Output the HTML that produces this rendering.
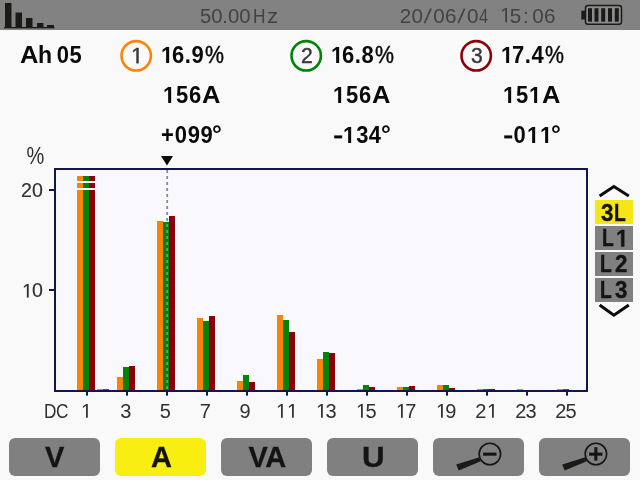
<!DOCTYPE html>
<html><head><meta charset="utf-8"><title>Harmonics</title>
<style>
html,body{margin:0;padding:0;}
body{width:640px;height:480px;overflow:hidden;background:#f9f9f9;position:relative;font-family:"Liberation Sans",sans-serif;}
#hdr{position:absolute;left:0;top:0;width:640px;height:30px;background:#828282;}
.t{position:absolute;white-space:pre;display:block;}
#txt{position:absolute;left:0;top:0;width:640px;height:480px;will-change:transform;}
.g1{display:inline-block;width:0.5562em;height:0.688em;vertical-align:baseline;fill:currentColor;stroke:currentColor;stroke-width:var(--sw,0);overflow:visible;}
.btn{position:absolute;top:438px;width:91px;height:38px;border-radius:6px;}
.sel{position:absolute;left:595px;width:38px;height:24px;}
svg.ov{position:absolute;left:0;top:0;}
</style></head><body>
<div id="hdr"></div>
<svg class="ov" width="640" height="480" viewBox="0 0 640 480">
<!-- header icon -->
<g fill="#1c1a17">
<rect x="5" y="3" width="6.5" height="25"/>
<rect x="15.5" y="12.5" width="6.5" height="15.5"/>
<rect x="26" y="18" width="6.5" height="10"/>
<rect x="37" y="23" width="6.5" height="5"/>
<rect x="47" y="25" width="7" height="3"/>
<rect x="4" y="27" width="50.5" height="1.3"/>
</g>
<!-- date slashes -->
<line x1="424.6" y1="23.1" x2="431.0" y2="8.5" stroke="#424242" stroke-width="1.7"/>
<line x1="458.2" y1="23.1" x2="464.6" y2="8.5" stroke="#424242" stroke-width="1.7"/>
<!-- battery -->
<rect x="581.3" y="10.7" width="4" height="8.8" fill="#1c1a17"/>
<rect x="585.5" y="5.6" width="36" height="18.6" rx="2.5" ry="2.5" fill="#8c8c8c" stroke="#1c1a17" stroke-width="1.5"/>
<g fill="#1c1a17">
<rect x="588" y="8.2" width="4" height="13.5"/>
<rect x="594.5" y="8.2" width="4" height="13.5"/>
<rect x="601.2" y="8.2" width="4" height="13.5"/>
<rect x="608" y="8.2" width="4" height="13.5"/>
<rect x="614.8" y="8.2" width="4" height="13.5"/>
</g>
<!-- circles -->
<circle cx="136.2" cy="55.85" r="14.7" fill="none" stroke="#fa8405" stroke-width="2.6"/>
<circle cx="306.2" cy="55.85" r="14.7" fill="none" stroke="#008408" stroke-width="2.6"/>
<circle cx="476.2" cy="55.85" r="14.7" fill="none" stroke="#8c000c" stroke-width="2.6"/>
<!-- minus signs -->
<rect x="334.2" y="135.4" width="8" height="3" fill="#0a0a0a"/>
<rect x="504.2" y="135.4" width="8" height="3" fill="#0a0a0a"/>
<!-- chart frame -->
<rect x="54" y="168" width="534" height="224" fill="#15154d"/>
<rect x="56" y="170" width="530" height="220" fill="#f8f8fd"/>
<rect x="49" y="189" width="5" height="2" fill="#15154d"/>
<rect x="49" y="289" width="5" height="2" fill="#15154d"/>
<rect x="86" y="392" width="2" height="3.6" fill="#15154d"/><rect x="126" y="392" width="2" height="3.6" fill="#15154d"/><rect x="166" y="392" width="2" height="3.6" fill="#15154d"/><rect x="206" y="392" width="2" height="3.6" fill="#15154d"/><rect x="246" y="392" width="2" height="3.6" fill="#15154d"/><rect x="286" y="392" width="2" height="3.6" fill="#15154d"/><rect x="326" y="392" width="2" height="3.6" fill="#15154d"/><rect x="366" y="392" width="2" height="3.6" fill="#15154d"/><rect x="406" y="392" width="2" height="3.6" fill="#15154d"/><rect x="446" y="392" width="2" height="3.6" fill="#15154d"/><rect x="486" y="392" width="2" height="3.6" fill="#15154d"/><rect x="526" y="392" width="2" height="3.6" fill="#15154d"/><rect x="566" y="392" width="2" height="3.6" fill="#15154d"/>
<!-- bars -->
<rect x="77" y="176.0" width="6" height="214.0" fill="#fa8405"/><rect x="83" y="176.0" width="6" height="214.0" fill="#008408"/><rect x="89" y="176.0" width="6" height="214.0" fill="#8c000c"/><rect x="97" y="389.0" width="6" height="1.0" fill="#fa8405"/><rect x="103" y="389.0" width="6" height="1.0" fill="#008408"/><rect x="117" y="377.0" width="6" height="13.0" fill="#fa8405"/><rect x="123" y="367.0" width="6" height="23.0" fill="#008408"/><rect x="129" y="366.0" width="6" height="24.0" fill="#8c000c"/><rect x="157" y="221.0" width="6" height="169.0" fill="#fa8405"/><rect x="163" y="222.0" width="6" height="168.0" fill="#008408"/><rect x="169" y="216.0" width="6" height="174.0" fill="#8c000c"/><rect x="197" y="318.0" width="6" height="72.0" fill="#fa8405"/><rect x="203" y="321.0" width="6" height="69.0" fill="#008408"/><rect x="209" y="316.0" width="6" height="74.0" fill="#8c000c"/><rect x="237" y="381.0" width="6" height="9.0" fill="#fa8405"/><rect x="243" y="375.0" width="6" height="15.0" fill="#008408"/><rect x="249" y="382.0" width="6" height="8.0" fill="#8c000c"/><rect x="277" y="315.0" width="6" height="75.0" fill="#fa8405"/><rect x="283" y="320.0" width="6" height="70.0" fill="#008408"/><rect x="289" y="332.0" width="6" height="58.0" fill="#8c000c"/><rect x="317" y="359.0" width="6" height="31.0" fill="#fa8405"/><rect x="323" y="352.0" width="6" height="38.0" fill="#008408"/><rect x="329" y="353.0" width="6" height="37.0" fill="#8c000c"/><rect x="357" y="389.0" width="6" height="1.0" fill="#fa8405"/><rect x="363" y="385.0" width="6" height="5.0" fill="#008408"/><rect x="369" y="387.0" width="6" height="3.0" fill="#8c000c"/><rect x="397" y="387.0" width="6" height="3.0" fill="#fa8405"/><rect x="403" y="387.0" width="6" height="3.0" fill="#008408"/><rect x="409" y="386.0" width="6" height="4.0" fill="#8c000c"/><rect x="437" y="385.0" width="6" height="5.0" fill="#fa8405"/><rect x="443" y="385.0" width="6" height="5.0" fill="#008408"/><rect x="449" y="388.0" width="6" height="2.0" fill="#8c000c"/><rect x="477" y="389.0" width="6" height="1.0" fill="#fa8405"/><rect x="483" y="389.0" width="6" height="1.0" fill="#008408"/><rect x="489" y="389.0" width="6" height="1.0" fill="#8c000c"/><rect x="517" y="389.0" width="6" height="1.0" fill="#fa8405"/><rect x="557" y="389.0" width="6" height="1.0" fill="#fa8405"/><rect x="563" y="389.0" width="6" height="1.0" fill="#008408"/>
<!-- gaps in clipped bars -->
<rect x="76" y="181" width="20" height="2" fill="#f8f8fd"/>
<rect x="76" y="188" width="20" height="2" fill="#f8f8fd"/>
<!-- cursor -->
<polygon points="161,156 173,156 167,165.5" fill="#0a0a0a"/>
<line x1="167.2" y1="170" x2="167.2" y2="389.5" stroke="#8a8a8a" stroke-width="1.8" stroke-dasharray="3 3"/>
<line x1="167.2" y1="224" x2="167.2" y2="389.5" stroke="#55a858" stroke-width="1.6" stroke-dasharray="3 3"/>
<!-- chevrons -->
<polyline points="599.6,196 613.9,186.6 628.8,196" fill="none" stroke="#0a0a0a" stroke-width="3"/>
<polyline points="599.6,305 613.9,315.2 628.8,305" fill="none" stroke="#0a0a0a" stroke-width="3"/>
</svg>
<div id="txt">
<span class="t" style="left:200.09px;top:5.82px;font-size:20.3px;line-height:20.3px;color:#424242;transform:scale(1.0,1.03);transform-origin:0 17.18px;">50</span>
<span class="t" style="left:222.15px;top:5.82px;font-size:20.3px;line-height:20.3px;color:#424242;">.</span>
<span class="t" style="left:228.01px;top:5.82px;font-size:20.3px;line-height:20.3px;color:#424242;transform:scale(1.0,1.03);transform-origin:0 17.18px;">00</span>
<span class="t" style="left:253.38px;top:5.56px;font-size:20.6px;line-height:20.6px;color:#424242;transform:scale(0.84,1.0);transform-origin:0 17.44px;">H</span>
<span class="t" style="left:266.50px;top:5.56px;font-size:20.6px;line-height:20.6px;color:#424242;transform:scale(1.08,1.0);transform-origin:0 17.44px;">z</span>
<span class="t" style="left:399.86px;top:5.56px;font-size:20.6px;line-height:20.6px;color:#424242;letter-spacing:0.3px;">20</span>
<span class="t" style="left:433.20px;top:5.56px;font-size:20.6px;line-height:20.6px;color:#424242;letter-spacing:0.3px;">06</span>
<span class="t" style="left:466.90px;top:5.56px;font-size:20.6px;line-height:20.6px;color:#424242;">0</span>
<span class="t" style="left:478.62px;top:5.56px;font-size:20.6px;line-height:20.6px;color:#424242;transform:scale(0.8,1.0);transform-origin:0 17.44px;">4</span>
<span class="t" style="left:499.52px;top:5.56px;font-size:20.6px;line-height:20.6px;color:#424242;"><svg class="g1" viewBox="0 0 1139 1409"><path d="M515 1409V172L197 399V229L530 0H696V1409Z"/></svg></span>
<span class="t" style="left:509.78px;top:5.56px;font-size:20.6px;line-height:20.6px;color:#424242;">5</span>
<span class="t" style="left:523.02px;top:5.56px;font-size:20.6px;line-height:20.6px;color:#424242;">:</span>
<span class="t" style="left:532.30px;top:5.56px;font-size:20.6px;line-height:20.6px;color:#424242;letter-spacing:0.3px;">06</span>
<span class="t" style="left:20.16px;top:45.08px;font-size:22px;line-height:22px;color:#0a0a0a;font-weight:bold;transform:scale(1.16,1.06);transform-origin:0 18.62px;">A</span>
<span class="t" style="left:38.09px;top:45.08px;font-size:22px;line-height:22px;color:#0a0a0a;font-weight:bold;transform:scale(1.05,1.06);transform-origin:0 18.62px;">h</span>
<span class="t" style="left:56.73px;top:45.08px;font-size:22px;line-height:22px;color:#0a0a0a;font-weight:bold;transform:scale(1.0,1.06);transform-origin:0 18.62px;">0</span>
<span class="t" style="left:69.52px;top:45.08px;font-size:22px;line-height:22px;color:#0a0a0a;font-weight:bold;transform:scale(1.0,1.06);transform-origin:0 18.62px;">5</span>
<span class="t" style="left:160.60px;top:45.08px;font-size:22px;line-height:22px;color:#0a0a0a;font-weight:bold;transform:scale(1.0,1.06);transform-origin:0 18.62px;"><svg class="g1" viewBox="0 0 1139 1409"><path d="M478 1409V239L140 450V229L493 0H759V1409Z"/></svg></span>
<span class="t" style="left:171.99px;top:45.08px;font-size:22px;line-height:22px;color:#0a0a0a;font-weight:bold;transform:scale(1.0,1.06);transform-origin:0 18.62px;">6</span>
<span class="t" style="left:184.71px;top:45.08px;font-size:22px;line-height:22px;color:#0a0a0a;font-weight:bold;transform:scale(1.0,1.06);transform-origin:0 18.62px;">.</span>
<span class="t" style="left:191.44px;top:45.08px;font-size:22px;line-height:22px;color:#0a0a0a;font-weight:bold;transform:scale(1.0,1.06);transform-origin:0 18.62px;">9</span>
<span class="t" style="left:204.94px;top:44.68px;font-size:22px;line-height:22px;color:#0a0a0a;-webkit-text-stroke:0.4px #0a0a0a;--sw:37;transform:scale(0.97,1.12);transform-origin:0 18.62px;">%</span>
<span class="t" style="left:163.40px;top:84.88px;font-size:22px;line-height:22px;color:#0a0a0a;font-weight:bold;transform:scale(1.0,1.06);transform-origin:0 18.62px;"><svg class="g1" viewBox="0 0 1139 1409"><path d="M478 1409V239L140 450V229L493 0H759V1409Z"/></svg></span>
<span class="t" style="left:176.12px;top:84.88px;font-size:22px;line-height:22px;color:#0a0a0a;font-weight:bold;transform:scale(1.0,1.06);transform-origin:0 18.62px;">5</span>
<span class="t" style="left:189.09px;top:84.88px;font-size:22px;line-height:22px;color:#0a0a0a;font-weight:bold;transform:scale(1.0,1.06);transform-origin:0 18.62px;">6</span>
<span class="t" style="left:201.66px;top:84.88px;font-size:22px;line-height:22px;color:#0a0a0a;font-weight:bold;transform:scale(1.16,1.06);transform-origin:0 18.62px;">A</span>
<span class="t" style="left:160.88px;top:124.98px;font-size:22px;line-height:22px;color:#0a0a0a;font-weight:bold;transform:scale(1.0,1.06);transform-origin:0 18.62px;">+</span>
<span class="t" style="left:174.63px;top:124.98px;font-size:22px;line-height:22px;color:#0a0a0a;font-weight:bold;transform:scale(1.0,1.06);transform-origin:0 18.62px;">0</span>
<span class="t" style="left:187.84px;top:124.98px;font-size:22px;line-height:22px;color:#0a0a0a;font-weight:bold;transform:scale(1.0,1.06);transform-origin:0 18.62px;">9</span>
<span class="t" style="left:200.44px;top:124.98px;font-size:22px;line-height:22px;color:#0a0a0a;font-weight:bold;transform:scale(1.0,1.06);transform-origin:0 18.62px;">9</span>
<span class="t" style="left:211.92px;top:123.68px;font-size:22px;line-height:22px;color:#0a0a0a;font-weight:bold;transform:scale(1.12,1.06);transform-origin:0 18.62px;">°</span>
<span class="t" style="left:330.60px;top:45.08px;font-size:22px;line-height:22px;color:#0a0a0a;font-weight:bold;transform:scale(1.0,1.06);transform-origin:0 18.62px;"><svg class="g1" viewBox="0 0 1139 1409"><path d="M478 1409V239L140 450V229L493 0H759V1409Z"/></svg></span>
<span class="t" style="left:341.99px;top:45.08px;font-size:22px;line-height:22px;color:#0a0a0a;font-weight:bold;transform:scale(1.0,1.06);transform-origin:0 18.62px;">6</span>
<span class="t" style="left:354.71px;top:45.08px;font-size:22px;line-height:22px;color:#0a0a0a;font-weight:bold;transform:scale(1.0,1.06);transform-origin:0 18.62px;">.</span>
<span class="t" style="left:361.44px;top:45.08px;font-size:22px;line-height:22px;color:#0a0a0a;font-weight:bold;transform:scale(1.0,1.06);transform-origin:0 18.62px;">8</span>
<span class="t" style="left:374.94px;top:44.68px;font-size:22px;line-height:22px;color:#0a0a0a;-webkit-text-stroke:0.4px #0a0a0a;--sw:37;transform:scale(0.97,1.12);transform-origin:0 18.62px;">%</span>
<span class="t" style="left:333.40px;top:84.88px;font-size:22px;line-height:22px;color:#0a0a0a;font-weight:bold;transform:scale(1.0,1.06);transform-origin:0 18.62px;"><svg class="g1" viewBox="0 0 1139 1409"><path d="M478 1409V239L140 450V229L493 0H759V1409Z"/></svg></span>
<span class="t" style="left:346.12px;top:84.88px;font-size:22px;line-height:22px;color:#0a0a0a;font-weight:bold;transform:scale(1.0,1.06);transform-origin:0 18.62px;">5</span>
<span class="t" style="left:359.09px;top:84.88px;font-size:22px;line-height:22px;color:#0a0a0a;font-weight:bold;transform:scale(1.0,1.06);transform-origin:0 18.62px;">6</span>
<span class="t" style="left:371.66px;top:84.88px;font-size:22px;line-height:22px;color:#0a0a0a;font-weight:bold;transform:scale(1.16,1.06);transform-origin:0 18.62px;">A</span>
<span class="t" style="left:343.40px;top:124.98px;font-size:22px;line-height:22px;color:#0a0a0a;font-weight:bold;transform:scale(1.0,1.06);transform-origin:0 18.62px;"><svg class="g1" viewBox="0 0 1139 1409"><path d="M478 1409V239L140 450V229L493 0H759V1409Z"/></svg></span>
<span class="t" style="left:356.30px;top:124.98px;font-size:22px;line-height:22px;color:#0a0a0a;font-weight:bold;transform:scale(1.0,1.06);transform-origin:0 18.62px;">3</span>
<span class="t" style="left:368.87px;top:124.98px;font-size:22px;line-height:22px;color:#0a0a0a;font-weight:bold;transform:scale(1.0,1.06);transform-origin:0 18.62px;">4</span>
<span class="t" style="left:381.42px;top:123.68px;font-size:22px;line-height:22px;color:#0a0a0a;font-weight:bold;transform:scale(1.12,1.06);transform-origin:0 18.62px;">°</span>
<span class="t" style="left:500.60px;top:45.08px;font-size:22px;line-height:22px;color:#0a0a0a;font-weight:bold;transform:scale(1.0,1.06);transform-origin:0 18.62px;"><svg class="g1" viewBox="0 0 1139 1409"><path d="M478 1409V239L140 450V229L493 0H759V1409Z"/></svg></span>
<span class="t" style="left:511.99px;top:45.08px;font-size:22px;line-height:22px;color:#0a0a0a;font-weight:bold;transform:scale(1.0,1.06);transform-origin:0 18.62px;">7</span>
<span class="t" style="left:524.71px;top:45.08px;font-size:22px;line-height:22px;color:#0a0a0a;font-weight:bold;transform:scale(1.0,1.06);transform-origin:0 18.62px;">.</span>
<span class="t" style="left:531.44px;top:45.08px;font-size:22px;line-height:22px;color:#0a0a0a;font-weight:bold;transform:scale(1.0,1.06);transform-origin:0 18.62px;">4</span>
<span class="t" style="left:544.94px;top:44.68px;font-size:22px;line-height:22px;color:#0a0a0a;-webkit-text-stroke:0.4px #0a0a0a;--sw:37;transform:scale(0.97,1.12);transform-origin:0 18.62px;">%</span>
<span class="t" style="left:503.40px;top:84.88px;font-size:22px;line-height:22px;color:#0a0a0a;font-weight:bold;transform:scale(1.0,1.06);transform-origin:0 18.62px;"><svg class="g1" viewBox="0 0 1139 1409"><path d="M478 1409V239L140 450V229L493 0H759V1409Z"/></svg></span>
<span class="t" style="left:516.12px;top:84.88px;font-size:22px;line-height:22px;color:#0a0a0a;font-weight:bold;transform:scale(1.0,1.06);transform-origin:0 18.62px;">5</span>
<span class="t" style="left:529.09px;top:84.88px;font-size:22px;line-height:22px;color:#0a0a0a;font-weight:bold;transform:scale(1.0,1.06);transform-origin:0 18.62px;"><svg class="g1" viewBox="0 0 1139 1409"><path d="M478 1409V239L140 450V229L493 0H759V1409Z"/></svg></span>
<span class="t" style="left:541.66px;top:84.88px;font-size:22px;line-height:22px;color:#0a0a0a;font-weight:bold;transform:scale(1.16,1.06);transform-origin:0 18.62px;">A</span>
<span class="t" style="left:513.43px;top:124.98px;font-size:22px;line-height:22px;color:#0a0a0a;font-weight:bold;transform:scale(1.0,1.06);transform-origin:0 18.62px;">0</span>
<span class="t" style="left:526.90px;top:124.98px;font-size:22px;line-height:22px;color:#0a0a0a;font-weight:bold;transform:scale(1.0,1.06);transform-origin:0 18.62px;"><svg class="g1" viewBox="0 0 1139 1409"><path d="M478 1409V239L140 450V229L493 0H759V1409Z"/></svg></span>
<span class="t" style="left:539.90px;top:124.98px;font-size:22px;line-height:22px;color:#0a0a0a;font-weight:bold;transform:scale(1.0,1.06);transform-origin:0 18.62px;"><svg class="g1" viewBox="0 0 1139 1409"><path d="M478 1409V239L140 450V229L493 0H759V1409Z"/></svg></span>
<span class="t" style="left:551.42px;top:123.68px;font-size:22px;line-height:22px;color:#0a0a0a;font-weight:bold;transform:scale(1.12,1.06);transform-origin:0 18.62px;">°</span>
<span class="t" style="left:131.38px;top:45.28px;font-size:22px;line-height:22px;color:#383838;-webkit-text-stroke:0.45px #383838;--sw:42;"><svg class="g1" viewBox="0 0 1139 1409"><path d="M515 1409V172L197 399V229L530 0H696V1409Z"/></svg></span>
<span class="t" style="left:301.14px;top:45.28px;font-size:22px;line-height:22px;color:#383838;-webkit-text-stroke:0.45px #383838;--sw:42;transform:scale(0.96,1.0);transform-origin:0 18.62px;">2</span>
<span class="t" style="left:470.60px;top:45.28px;font-size:22px;line-height:22px;color:#383838;-webkit-text-stroke:0.45px #383838;--sw:42;transform:scale(0.96,1.0);transform-origin:0 18.62px;">3</span>
<span class="t" style="left:26.59px;top:146.57px;font-size:20px;line-height:20px;color:#303030;transform:scale(1.0,1.17);transform-origin:0 16.93px;">%</span>
<span class="t" style="left:20.91px;top:180.91px;font-size:19.6px;line-height:19.6px;color:#303030;-webkit-text-stroke:0.15px #303030;--sw:16;">2</span>
<span class="t" style="left:31.93px;top:180.91px;font-size:19.6px;line-height:19.6px;color:#303030;-webkit-text-stroke:0.15px #303030;--sw:16;">0</span>
<span class="t" style="left:22.01px;top:281.01px;font-size:19.6px;line-height:19.6px;color:#303030;-webkit-text-stroke:0.15px #303030;--sw:16;"><svg class="g1" viewBox="0 0 1139 1409"><path d="M515 1409V172L197 399V229L530 0H696V1409Z"/></svg></span>
<span class="t" style="left:31.93px;top:281.01px;font-size:19.6px;line-height:19.6px;color:#303030;-webkit-text-stroke:0.15px #303030;--sw:16;">0</span>
<span class="t" style="left:43.89px;top:400.77px;font-size:20px;line-height:20px;color:#303030;transform:scale(0.86,1.0);transform-origin:0 16.93px;">D</span>
<span class="t" style="left:55.63px;top:400.77px;font-size:20px;line-height:20px;color:#303030;transform:scale(0.86,1.0);transform-origin:0 16.93px;">C</span>
<span class="t" style="left:80.58px;top:400.77px;font-size:20px;line-height:20px;color:#303030;"><svg class="g1" viewBox="0 0 1139 1409"><path d="M515 1409V172L197 399V229L530 0H696V1409Z"/></svg></span>
<span class="t" style="left:120.14px;top:400.77px;font-size:20px;line-height:20px;color:#303030;">3</span>
<span class="t" style="left:159.70px;top:400.77px;font-size:20px;line-height:20px;color:#303030;">5</span>
<span class="t" style="left:199.72px;top:400.77px;font-size:20px;line-height:20px;color:#303030;">7</span>
<span class="t" style="left:239.56px;top:400.77px;font-size:20px;line-height:20px;color:#303030;">9</span>
<span class="t" style="left:275.58px;top:400.77px;font-size:20px;line-height:20px;color:#303030;"><svg class="g1" viewBox="0 0 1139 1409"><path d="M515 1409V172L197 399V229L530 0H696V1409Z"/></svg></span>
<span class="t" style="left:286.83px;top:400.77px;font-size:20px;line-height:20px;color:#303030;"><svg class="g1" viewBox="0 0 1139 1409"><path d="M515 1409V172L197 399V229L530 0H696V1409Z"/></svg></span>
<span class="t" style="left:315.58px;top:400.77px;font-size:20px;line-height:20px;color:#303030;"><svg class="g1" viewBox="0 0 1139 1409"><path d="M515 1409V172L197 399V229L530 0H696V1409Z"/></svg></span>
<span class="t" style="left:325.49px;top:400.77px;font-size:20px;line-height:20px;color:#303030;">3</span>
<span class="t" style="left:355.58px;top:400.77px;font-size:20px;line-height:20px;color:#303030;"><svg class="g1" viewBox="0 0 1139 1409"><path d="M515 1409V172L197 399V229L530 0H696V1409Z"/></svg></span>
<span class="t" style="left:365.45px;top:400.77px;font-size:20px;line-height:20px;color:#303030;">5</span>
<span class="t" style="left:395.58px;top:400.77px;font-size:20px;line-height:20px;color:#303030;"><svg class="g1" viewBox="0 0 1139 1409"><path d="M515 1409V172L197 399V229L530 0H696V1409Z"/></svg></span>
<span class="t" style="left:405.22px;top:400.77px;font-size:20px;line-height:20px;color:#303030;">7</span>
<span class="t" style="left:435.58px;top:400.77px;font-size:20px;line-height:20px;color:#303030;"><svg class="g1" viewBox="0 0 1139 1409"><path d="M515 1409V172L197 399V229L530 0H696V1409Z"/></svg></span>
<span class="t" style="left:445.31px;top:400.77px;font-size:20px;line-height:20px;color:#303030;">9</span>
<span class="t" style="left:475.29px;top:400.77px;font-size:20px;line-height:20px;color:#303030;">2</span>
<span class="t" style="left:486.83px;top:400.77px;font-size:20px;line-height:20px;color:#303030;"><svg class="g1" viewBox="0 0 1139 1409"><path d="M515 1409V172L197 399V229L530 0H696V1409Z"/></svg></span>
<span class="t" style="left:515.29px;top:400.77px;font-size:20px;line-height:20px;color:#303030;">2</span>
<span class="t" style="left:525.49px;top:400.77px;font-size:20px;line-height:20px;color:#303030;">3</span>
<span class="t" style="left:555.29px;top:400.77px;font-size:20px;line-height:20px;color:#303030;">2</span>
<span class="t" style="left:565.45px;top:400.77px;font-size:20px;line-height:20px;color:#303030;">5</span>

<div class="sel" style="top:200px;background:#f5e61a"></div>
<span class="t" style="left:601.29px;top:201.38px;font-size:24px;line-height:24px;color:#141414;font-weight:bold;-webkit-text-stroke:0.4px #141414;--sw:34;transform:scale(0.93,1.0);transform-origin:0 20.32px;">3</span>
<span class="t" style="left:614.02px;top:201.38px;font-size:24px;line-height:24px;color:#141414;font-weight:bold;-webkit-text-stroke:0.4px #141414;--sw:34;transform:scale(0.8,1.0);transform-origin:0 20.32px;">L</span>
<div class="sel" style="top:226px;background:#808080"></div>
<span class="t" style="left:601.72px;top:226.08px;font-size:24px;line-height:24px;color:#141414;font-weight:bold;-webkit-text-stroke:0.4px #141414;--sw:34;transform:scale(0.8,1.0);transform-origin:0 20.32px;">L</span>
<span class="t" style="left:615.97px;top:226.08px;font-size:24px;line-height:24px;color:#141414;font-weight:bold;-webkit-text-stroke:0.4px #141414;--sw:34;transform:scale(0.93,1.0);transform-origin:0 20.32px;"><svg class="g1" viewBox="0 0 1139 1409"><path d="M478 1409V239L140 450V229L493 0H759V1409Z"/></svg></span>
<div class="sel" style="top:252px;background:#808080"></div>
<span class="t" style="left:599.62px;top:252.18px;font-size:24px;line-height:24px;color:#141414;font-weight:bold;-webkit-text-stroke:0.4px #141414;--sw:34;transform:scale(0.8,1.0);transform-origin:0 20.32px;">L</span>
<span class="t" style="left:615.23px;top:252.18px;font-size:24px;line-height:24px;color:#141414;font-weight:bold;-webkit-text-stroke:0.4px #141414;--sw:34;transform:scale(0.93,1.0);transform-origin:0 20.32px;">2</span>
<div class="sel" style="top:278px;background:#808080"></div>
<span class="t" style="left:599.62px;top:278.18px;font-size:24px;line-height:24px;color:#141414;font-weight:bold;-webkit-text-stroke:0.4px #141414;--sw:34;transform:scale(0.8,1.0);transform-origin:0 20.32px;">L</span>
<span class="t" style="left:615.49px;top:278.18px;font-size:24px;line-height:24px;color:#141414;font-weight:bold;-webkit-text-stroke:0.4px #141414;--sw:34;transform:scale(0.93,1.0);transform-origin:0 20.32px;">3</span>

<div class="btn" style="left:9px;background:#808080"></div>
<span class="t" style="left:45.00px;top:443.05px;font-size:29px;line-height:29px;color:#141414;font-weight:bold;-webkit-text-stroke:0.3px #141414;--sw:21;">V</span>
<div class="btn" style="left:115px;background:#f8ee10"></div>
<span class="t" style="left:150.98px;top:443.05px;font-size:29px;line-height:29px;color:#141414;font-weight:bold;-webkit-text-stroke:0.3px #141414;--sw:21;">A</span>
<div class="btn" style="left:221px;background:#808080"></div>
<span class="t" style="left:248.40px;top:443.05px;font-size:29px;line-height:29px;color:#141414;font-weight:bold;-webkit-text-stroke:0.3px #141414;--sw:21;">V</span>
<span class="t" style="left:265.28px;top:443.05px;font-size:29px;line-height:29px;color:#141414;font-weight:bold;-webkit-text-stroke:0.3px #141414;--sw:21;">A</span>
<div class="btn" style="left:327px;background:#808080"></div>
<span class="t" style="left:361.62px;top:443.05px;font-size:29px;line-height:29px;color:#141414;font-weight:bold;-webkit-text-stroke:0.3px #141414;--sw:21;transform:scale(1.08,1.0);transform-origin:0 24.55px;">U</span>
<div class="btn" style="left:433px;background:#808080"></div>
<div class="btn" style="left:539px;background:#808080"></div>
</div>
<svg class="ov" width="640" height="480" viewBox="0 0 640 480">
<circle cx="489.9" cy="454" r="10.7" fill="none" stroke="#141414" stroke-width="1.6"/>
<polygon points="479.3,457.3 480.8,461.2 458.7,470.6 456.2,464.6" fill="#1c1a17"/>
<rect x="483.1" y="452.6" width="13.4" height="3.1" fill="#141414"/>
<g transform="translate(106,0)">
<circle cx="489.9" cy="454" r="10.7" fill="none" stroke="#141414" stroke-width="1.6"/>
<polygon points="479.3,457.3 480.8,461.2 458.7,470.6 456.2,464.6" fill="#1c1a17"/>
<rect x="483.1" y="452.6" width="13.4" height="3.1" fill="#141414"/>
<rect x="488.3" y="447.2" width="3.1" height="13.4" fill="#141414"/>
</g>
</svg>
</body></html>
